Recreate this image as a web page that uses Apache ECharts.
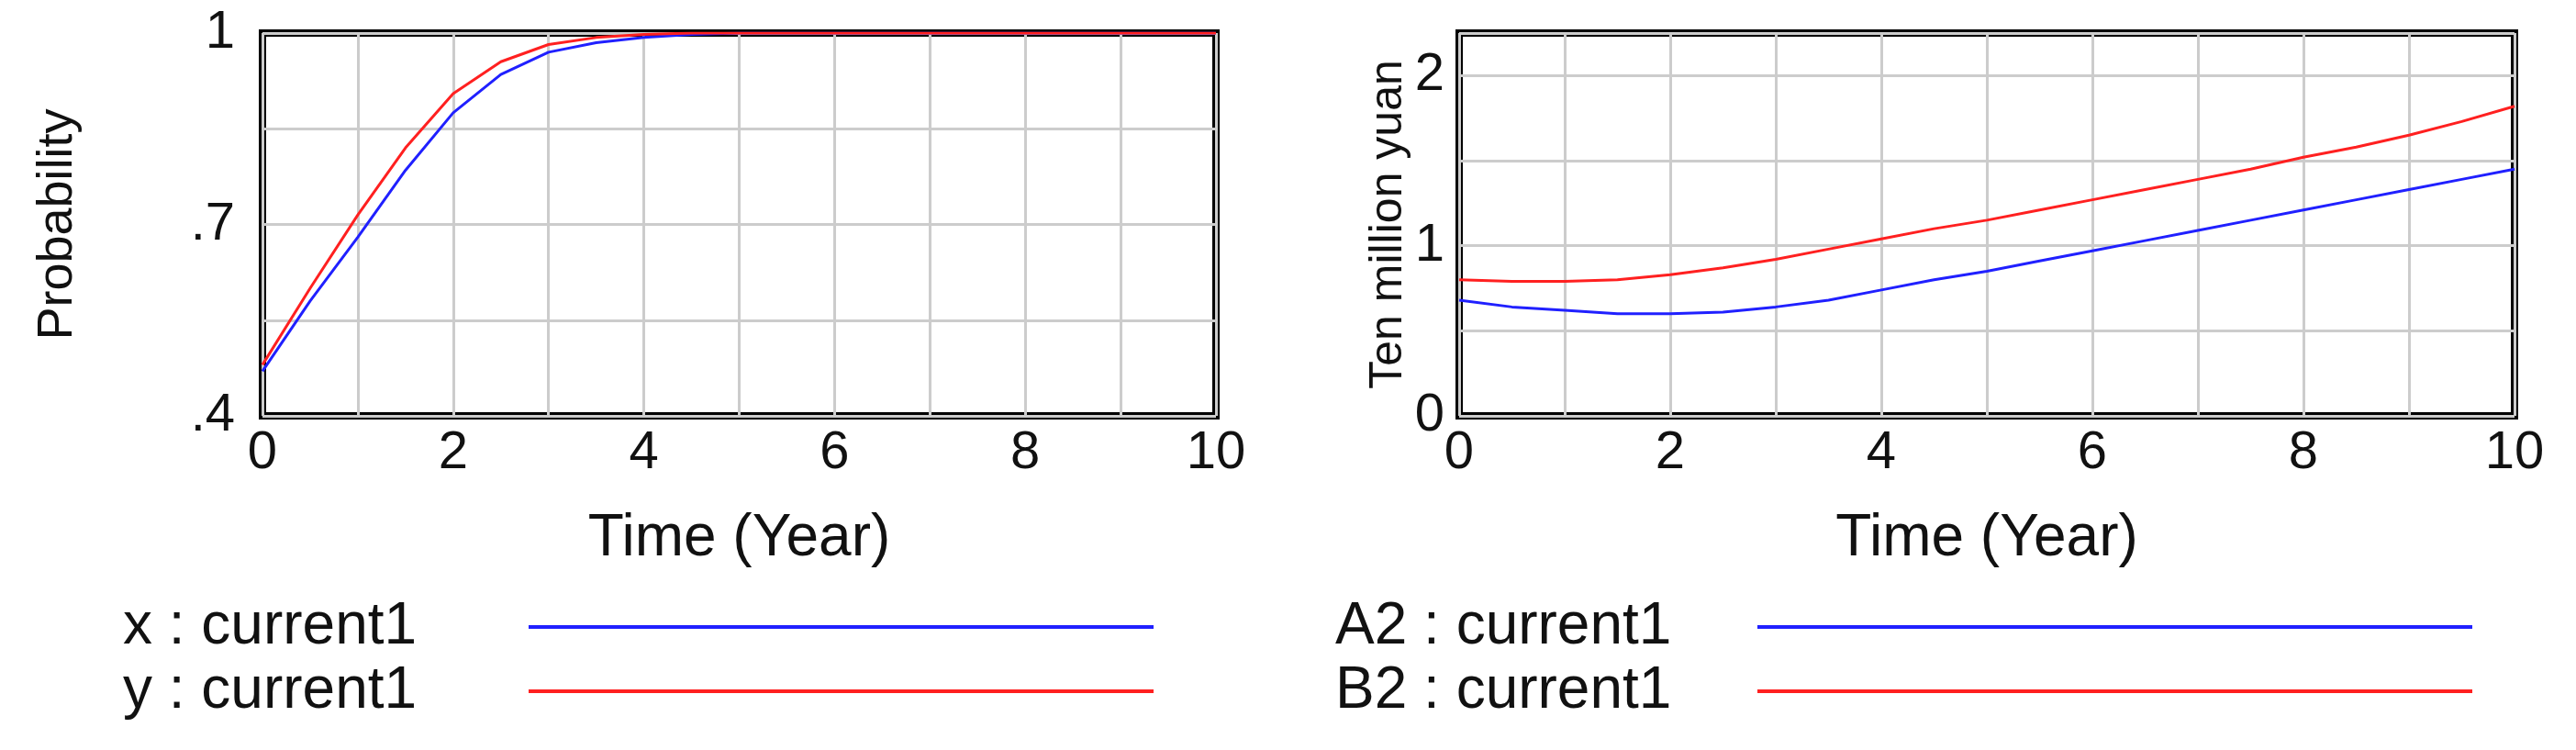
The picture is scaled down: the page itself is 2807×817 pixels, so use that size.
<!DOCTYPE html>
<html><head><meta charset="utf-8">
<script src="https://cdn.jsdelivr.net/npm/echarts@6/dist/echarts.min.js"></script>
<style>html,body{margin:0;padding:0;background:#fff}#c{width:2807px;height:817px}</style>
</head><body><div id="c"></div>
<script>
const time = [0,0.5,1,1.5,2,2.5,3,3.5,4,4.5,5,5.5,6,6.5,7,7.5,8,8.5,9,9.5,10];
const xProb = [0.47,0.58,0.68,0.785,0.875,0.935,0.97,0.985,0.993,0.998,1,1,1,1,1,1,1,1,1,1,1];
const yProb = [0.48,0.60,0.715,0.82,0.905,0.955,0.982,0.993,0.998,1,1,1,1,1,1,1,1,1,1,1,1];
const a2 = [0.68,0.64,0.62,0.60,0.60,0.61,0.64,0.68,0.74,0.80,0.85,0.91,0.97,1.03,1.09,1.15,1.21,1.27,1.33,1.39,1.45];
const b2 = [0.80,0.79,0.79,0.80,0.83,0.87,0.92,0.98,1.04,1.10,1.15,1.21,1.27,1.33,1.39,1.45,1.52,1.58,1.65,1.73,1.82];
const leftTicks = {'0.4':'.4','0.7':'.7','1':'1'};
const rightTicks = {'0':'0','1':'1','2':'2'};
const F = 'Liberation Sans, Arial, sans-serif';
const chart = echarts.init(document.getElementById('c'));
function xAxis(i){return {gridIndex:i,type:'value',min:0,max:10,interval:1,
  axisLine:{show:false},axisTick:{show:false},
  axisLabel:{fontSize:58,color:'#111',fontFamily:F,margin:12,formatter:v=>v%2===0?String(v):''},
  splitLine:{lineStyle:{color:'#ccc',width:3}},
  name:'Time (Year)',nameLocation:'middle',nameGap:134,nameTextStyle:{fontSize:64,color:'#111',fontFamily:F,verticalAlign:'middle'}};}
function mkSeries(name,data,color,xi){return {name,type:'line',xAxisIndex:xi,yAxisIndex:xi,
  data:time.map((t,k)=>[t,data[k]]),showSymbol:false,lineStyle:{color,width:3},color,animation:false};}
chart.setOption({
  animation:false,
  grid:[{left:286,top:36,width:1039,height:417,show:true,borderColor:'#000',borderWidth:8},
        {left:1590,top:36,width:1150,height:417,show:true,borderColor:'#000',borderWidth:8}],
  xAxis:[xAxis(0),xAxis(1)],
  yAxis:[{gridIndex:0,type:'value',min:0.4,max:1.0,interval:0.15,
    axisLine:{show:false},axisTick:{show:false},
    axisLabel:{fontSize:58,color:'#111',fontFamily:F,margin:30,formatter:v=>leftTicks[String(+v.toFixed(2))]||''},
    splitLine:{lineStyle:{color:'#ccc',width:3}},
    name:'Probability',nameLocation:'middle',nameGap:223,nameTextStyle:{fontSize:54,color:'#111',fontFamily:F,verticalAlign:'middle'}},
   {gridIndex:1,type:'value',min:0,max:2.25,interval:0.5,
    axisLine:{show:false},axisTick:{show:false},
    axisLabel:{fontSize:58,color:'#111',fontFamily:F,margin:16,formatter:v=>rightTicks[String(v)]||''},
    splitLine:{lineStyle:{color:'#ccc',width:3}},
    name:'Ten million yuan',nameLocation:'middle',nameGap:56,nameTextStyle:{fontSize:50,color:'#111',fontFamily:F,verticalAlign:'middle'}}],
  series:[mkSeries('x : current1',xProb,'#2020ff',0),mkSeries('y : current1',yProb,'#ff2020',0),
          mkSeries('A2 : current1',a2,'#2020ff',1),mkSeries('B2 : current1',b2,'#ff2020',1)],
  graphic:[
    {type:'text',x:134,y:683,style:{text:'x : current1',fontSize:64,fill:'#111',fontFamily:F,verticalAlign:'middle'}},
    {type:'text',x:134,y:753,style:{text:'y : current1',fontSize:64,fill:'#111',fontFamily:F,verticalAlign:'middle'}},
    {type:'line',shape:{x1:576,y1:683,x2:1257,y2:683},style:{stroke:'#2020ff',lineWidth:4}},
    {type:'line',shape:{x1:576,y1:753,x2:1257,y2:753},style:{stroke:'#ff2020',lineWidth:4}},
    {type:'text',x:1455,y:683,style:{text:'A2 : current1',fontSize:64,fill:'#111',fontFamily:F,verticalAlign:'middle'}},
    {type:'text',x:1455,y:753,style:{text:'B2 : current1',fontSize:64,fill:'#111',fontFamily:F,verticalAlign:'middle'}},
    {type:'line',shape:{x1:1915,y1:683,x2:2694,y2:683},style:{stroke:'#2020ff',lineWidth:4}},
    {type:'line',shape:{x1:1915,y1:753,x2:2694,y2:753},style:{stroke:'#ff2020',lineWidth:4}}
  ]
});
</script></body></html>
